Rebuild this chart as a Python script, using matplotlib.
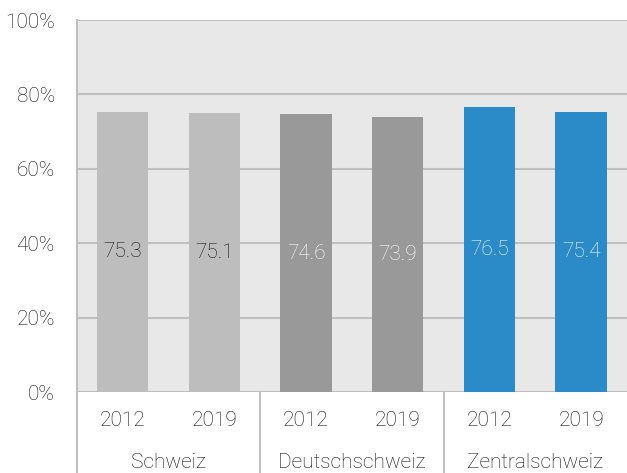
import matplotlib.pyplot as plt

plt.rcParams['font.family'] = ['Roboto', 'DejaVu Sans']
plt.rcParams['font.weight'] = 'light'

regions = ["Schweiz", "Deutschschweiz", "Zentralschweiz"]
years = ["2012", "2019", "2012", "2019", "2012", "2019"]
values = [75.3, 75.1, 74.6, 73.9, 76.5, 75.4]
colors = ["#bdbdbd", "#bdbdbd", "#999999", "#999999", "#2b8ac8", "#2b8ac8"]
label_colors = ["#111111", "#111111", "white", "white", "white", "white"]

fig = plt.figure(figsize=(6.27, 4.73), dpi=100)
ax = fig.add_axes([0.1228, 0.1712, 0.8772, 0.7865])
ax.set_facecolor("#e8e8e8")

xs = [i + 0.5 for i in range(len(values))]
ax.bar(xs, values, width=0.56, color=colors, zorder=3)
for x, v, c in zip(xs, values, label_colors):
    ax.text(x, v / 2, f"{v:.1f}", ha="center", va="center", color=c,
            fontsize=15, zorder=4)

ax.set_xlim(0, 6)
ax.set_ylim(0, 100)
ax.set_yticks(range(0, 101, 20))
ax.set_yticklabels([f"{t}%" for t in range(0, 101, 20)], fontsize=15, color="#111111")
ax.tick_params(axis="y", length=0, pad=16)
ax.set_xticks([])
ax.yaxis.grid(True, color="#bfbfbf", linewidth=1.5, zorder=1)
for s in ["top", "right", "bottom"]:
    ax.spines[s].set_visible(False)
ax.spines["left"].set_color("#bfbfbf")
ax.spines["left"].set_linewidth(1.5)

# category axis below the plot
for x, y in zip(xs, years):
    ax.text(x, -7.7, y, ha="center", va="center", fontsize=15, color="#111111",
            clip_on=False)
for i, r in enumerate(regions):
    ax.text(2 * i + 1, -19, r, ha="center", va="center", fontsize=15, color="#111111",
            clip_on=False)
for xb in [0, 2, 4]:
    ax.plot([xb, xb], [0, -22], color="#bfbfbf", linewidth=1.5, clip_on=False)

fig.savefig("out.png", dpi=100)
